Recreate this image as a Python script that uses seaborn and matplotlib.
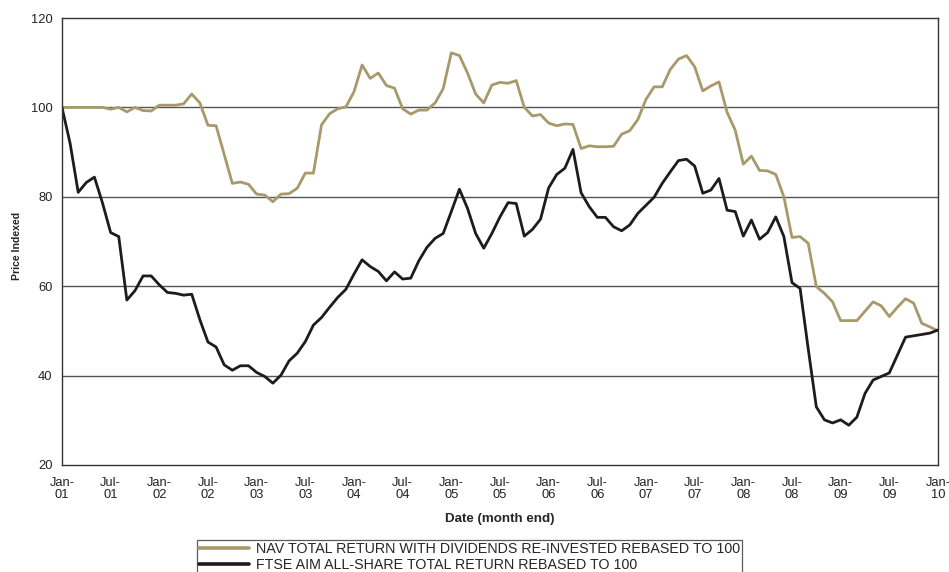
import matplotlib
matplotlib.use("Agg")
import matplotlib.pyplot as plt
import seaborn as sns
import pandas as pd
import numpy as np

# Monthly index values, Jan-01 .. Jan-10 (rebased to 100)
nav_total_return = [
    100.0, 100.0, 100.0, 100.0, 100.0, 100.0, 99.6, 100.0, 99.0, 100.0,
    99.3, 99.2, 100.5, 100.5, 100.5, 100.8, 103.0, 101.0, 96.0, 95.9,
    89.5, 83.0, 83.3, 82.8, 80.6, 80.4, 78.9, 80.6, 80.7, 81.9,
    85.3, 85.3, 96.1, 98.6, 99.7, 100.1, 103.5, 109.5, 106.5, 107.7,
    104.9, 104.3, 99.7, 98.5, 99.4, 99.4, 101.0, 104.2, 112.2, 111.6,
    107.7, 103.0, 101.0, 105.0, 105.6, 105.4, 106.0, 100.0, 98.1, 98.4,
    96.5, 95.9, 96.3, 96.2, 90.8, 91.4, 91.2, 91.2, 91.3, 94.0,
    94.8, 97.3, 101.8, 104.6, 104.6, 108.5, 110.8, 111.6, 109.1, 103.7,
    104.8, 105.7, 98.9, 94.9, 87.3, 89.1, 85.9, 85.8, 85.0, 80.0,
    70.9, 71.1, 69.6, 59.9, 58.4, 56.5, 52.3, 52.3, 52.3, 54.4,
    56.5, 55.6, 53.2, 55.3, 57.2, 56.2, 51.7, 50.9, 50.0,
]
ftse_aim_total_return = [
    100.0, 92.0, 81.0, 83.2, 84.4, 78.6, 72.0, 71.1, 56.9, 59.0,
    62.3, 62.3, 60.3, 58.6, 58.4, 58.0, 58.2, 52.5, 47.5, 46.4,
    42.4, 41.2, 42.2, 42.2, 40.7, 39.8, 38.3, 40.1, 43.3, 45.0,
    47.6, 51.3, 53.0, 55.3, 57.5, 59.3, 62.7, 65.9, 64.4, 63.3,
    61.2, 63.2, 61.6, 61.8, 65.7, 68.7, 70.7, 71.8, 76.7, 81.7,
    77.4, 71.8, 68.5, 71.8, 75.5, 78.7, 78.5, 71.2, 72.7, 75.0,
    82.0, 85.0, 86.4, 90.6, 80.9, 77.8, 75.4, 75.4, 73.3, 72.4,
    73.7, 76.3, 78.1, 79.9, 83.0, 85.6, 88.1, 88.4, 86.9, 80.8,
    81.5, 84.1, 77.0, 76.7, 71.2, 74.8, 70.5, 72.0, 75.5, 71.1,
    60.8, 59.5, 46.0, 33.0, 30.1, 29.4, 30.1, 28.9, 30.7, 36.0,
    39.0, 39.8, 40.6, 44.6, 48.6, 48.9, 49.2, 49.5, 50.2,
]
tick_labels = ["Jan-\n01", "Jul-\n01", "Jan-\n02", "Jul-\n02", "Jan-\n03",
               "Jul-\n03", "Jan-\n04", "Jul-\n04", "Jan-\n05", "Jul-\n05",
               "Jan-\n06", "Jul-\n06", "Jan-\n07", "Jul-\n07", "Jan-\n08",
               "Jul-\n08", "Jan-\n09", "Jul-\n09", "Jan-\n10"]
series_names = ["NAV TOTAL RETURN WITH DIVIDENDS RE-INVESTED REBASED TO 100",
                "FTSE AIM ALL-SHARE TOTAL RETURN REBASED TO 100"]

months = np.arange(len(nav_total_return))
df = pd.DataFrame({
    "month": np.concatenate([months, months]),
    "value": nav_total_return + ftse_aim_total_return,
    "series": [series_names[0]] * len(months) + [series_names[1]] * len(months),
})

sns.set_theme(style="white")
plt.rcParams["font.family"] = ["Liberation Sans", "DejaVu Sans"]

fig = plt.figure(figsize=(9.49, 5.72), dpi=100)
ax = fig.add_axes([0.0653, 0.1871, 0.9231, 0.7814])

palette = {series_names[0]: "#A8996A", series_names[1]: "#1C1C1C"}
sns.lineplot(data=df, x="month", y="value", hue="series", palette=palette,
             linewidth=2.0, ax=ax, legend=False)

ax.set_xlim(0, 108)
ax.set_ylim(20, 120)
ax.set_yticks([20, 40, 60, 80, 100, 120])
ax.set_xticks(np.arange(0, 109, 6))
ax.set_xticklabels(tick_labels, linespacing=1.1)
ax.tick_params(axis="both", labelsize=9.3, colors="#222222", length=4.3,
               width=0.8, direction="out")
ax.tick_params(axis="y", pad=2.5)
ax.tick_params(axis="x", pad=4)
for side in ["left", "right", "top", "bottom"]:
    ax.spines[side].set_color("#333333")
    ax.spines[side].set_linewidth(1.0)

for yv in [40, 60, 80, 100]:
    ax.axhline(yv, color="#555555", linewidth=1.0, zorder=0)

ax.set_xlabel("Date (month end)", fontsize=9.6, fontweight="bold", labelpad=8)
ax.set_ylabel("Price Indexed", fontsize=7.6, fontweight="bold")
ax.yaxis.set_label_coords(-0.0457, 0.49)

handles = [plt.Line2D([], [], color=palette[n], linewidth=2.6) for n in series_names]
leg = fig.legend(handles, series_names, loc="upper left",
                 bbox_to_anchor=(197 / 949, 1 - 540 / 572),
                 fontsize=10.3, frameon=True, fancybox=False,
                 handlelength=3.5, handletextpad=0.45, borderpad=0.15,
                 borderaxespad=0, labelspacing=0.15)
leg.get_frame().set_edgecolor("#333333")
leg.get_frame().set_linewidth(0.9)

fig.savefig("out.png", dpi=100)
